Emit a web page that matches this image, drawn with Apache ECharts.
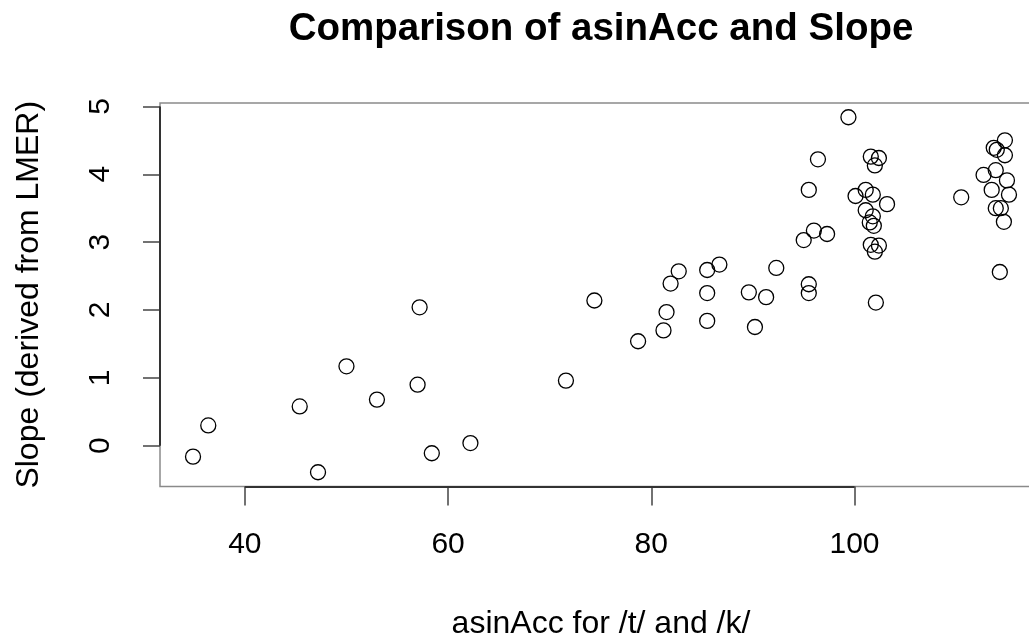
<!DOCTYPE html>
<html>
<head>
<meta charset="utf-8">
<script src="https://cdn.jsdelivr.net/npm/echarts@6/dist/echarts.min.js"></script>
<style>
  html, body { margin: 0; padding: 0; background: #fff; }
  #chart { width: 1029px; height: 640px; }
</style>
</head>
<body>
<div id="chart"></div>
<script>
// asinAcc (x) against slope estimated from the LMER fit (y)
const asinAcc = [
  34.9, 36.4, 45.4, 47.2, 50.0, 53.0, 57.2, 57.0, 58.4, 62.2,
  71.6, 74.4, 78.7, 81.2, 81.5, 81.9, 82.7, 85.5, 86.7, 85.5,
  85.5, 89.6, 91.3, 90.2, 92.3, 95.5, 95.5, 95.0, 96.0, 97.3,
  95.5, 96.4, 99.4, 102.1, 101.6, 102.4, 102.0, 100.1, 101.1, 101.8,
  103.2, 101.1, 101.8, 101.5, 101.9, 101.6, 102.4, 102.0, 110.5, 114.3,
  114.8, 113.7, 114.0, 114.8, 112.7, 113.9, 115.0, 113.5, 115.2, 113.9,
  114.4, 114.7
];
const slope = [
  -0.16, 0.30, 0.58, -0.39, 1.17, 0.68, 2.04, 0.90, -0.11, 0.04,
  0.96, 2.14, 1.54, 1.70, 1.97, 2.39, 2.57, 2.59, 2.67, 2.25,
  1.84, 2.26, 2.19, 1.75, 2.62, 2.38, 2.25, 3.03, 3.17, 3.12,
  3.77, 4.22, 4.84, 2.11, 4.26, 4.24, 4.13, 3.68, 3.77, 3.70,
  3.56, 3.47, 3.38, 3.29, 3.24, 2.96, 2.95, 2.86, 3.66, 2.56,
  4.50, 4.39, 4.36, 4.28, 3.99, 4.06, 3.91, 3.77, 3.70, 3.50,
  3.50, 3.30
];
const xTicks = [40, 60, 80, 100];
const yTicks = [0, 1, 2, 3, 4, 5];

// plotting range padded 4% beyond the data, as base graphics does
const xMin = 31.65, xMax = 118.45;
const yMin = -0.6, yMax = 5.05;

const points = asinAcc.map((x, i) => [x, slope[i]]);

const FONT = '"Liberation Sans", Arial, Helvetica, sans-serif';
const AXIS_DARK = '#333';

const chart = echarts.init(document.getElementById('chart'), null, { renderer: 'canvas' });
chart.setOption({
  backgroundColor: '#ffffff',
  animation: false,
  title: {
    text: 'Comparison of asinAcc and Slope',
    left: 601,
    top: 10,
    textAlign: 'center',
    padding: 0,
    textStyle: { fontFamily: FONT, fontSize: 38.5, fontWeight: 'bold', color: '#000' }
  },
  grid: {
    left: 160, top: 103, width: 882, height: 383.5,
    show: true, borderColor: '#8a8a8a', borderWidth: 1.5,
    backgroundColor: 'transparent',
    outerBoundsMode: 'none'
  },
  xAxis: {
    type: 'value', min: xMin, max: xMax,
    name: 'asinAcc for /t/ and /k/',
    nameLocation: 'middle', nameGap: 122,
    nameTextStyle: { fontFamily: FONT, fontSize: 32, color: '#000' },
    axisLine: { show: false, onZero: false },
    splitLine: { show: false },
    axisTick: { show: true, inside: false, length: 19, customValues: xTicks,
      lineStyle: { color: '#444', width: 1.5 } },
    axisLabel: { customValues: xTicks, margin: 43, fontFamily: FONT, fontSize: 30, color: '#000' }
  },
  yAxis: {
    type: 'value', min: yMin, max: yMax,
    name: 'Slope (derived from LMER)',
    nameLocation: 'middle', nameGap: 115, nameRotate: 90,
    nameTextStyle: { fontFamily: FONT, fontSize: 32, color: '#000' },
    axisLine: { show: false, onZero: false },
    splitLine: { show: false },
    axisTick: { show: true, inside: false, length: 17, customValues: yTicks,
      lineStyle: { color: '#444', width: 1.5 } },
    axisLabel: { customValues: yTicks, rotate: 90, margin: 44, fontFamily: FONT, fontSize: 30, color: '#000' }
  },
  series: [
    {
      type: 'scatter',
      data: points,
      symbol: 'circle',
      symbolSize: 15,
      itemStyle: { color: 'rgba(0,0,0,0)', borderColor: '#000', borderWidth: 1.3, opacity: 1 },
      emphasis: { disabled: true }
    },
    {
      // axis lines running from the first to the last tick
      type: 'line',
      data: [],
      silent: true,
      clip: false,
      markLine: {
        symbol: 'none',
        silent: true,
        label: { show: false },
        lineStyle: { color: AXIS_DARK, width: 2, type: 'solid' },
        data: [
          [{ coord: [xTicks[0], yMin] }, { coord: [xTicks[xTicks.length - 1], yMin] }],
          [{ coord: [xMin, yTicks[0]] }, { coord: [xMin, yTicks[yTicks.length - 1]] }]
        ]
      }
    }
  ]
});
</script>
</body>
</html>
